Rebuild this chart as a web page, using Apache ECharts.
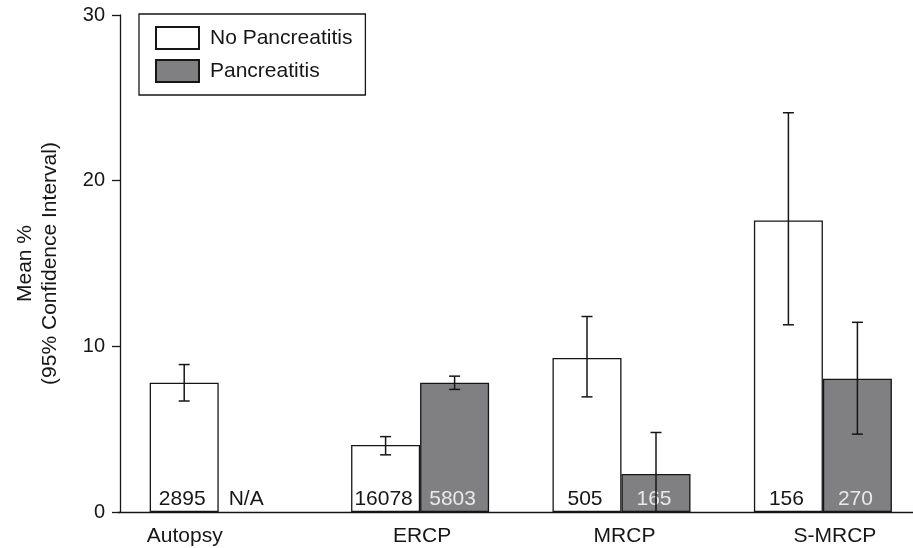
<!DOCTYPE html>
<html>
<head>
<meta charset="utf-8">
<script src="https://cdn.jsdelivr.net/npm/echarts@6/dist/echarts.min.js"></script>
<style>
  html, body { margin: 0; padding: 0; background: #fff; }
  #chart { width: 913px; height: 548px; }
</style>
</head>
<body>
<div id="chart"></div>
<script>
const categories = ['Autopsy', 'ERCP', 'MRCP', 'S-MRCP'];
const noPancMean = [7.8, 4.05, 9.3, 17.6];
const noPancLow  = [6.7, 3.45, 6.95, 11.3];
const noPancHigh = [8.9, 4.55, 11.8, 24.1];
const pancMean = [null, 7.8, 2.3, 8.05];
const pancLow  = [null, 7.4, 0.0, 4.7];
const pancHigh = [null, 8.2, 4.8, 11.45];
const noPancN = ['2895', '16078', '505', '156'];
const pancN   = ['N/A', '5803', '165', '270'];
const yTicks = [0, 10, 20, 30];

const FONT = 'Liberation Sans, Arial, Helvetica, sans-serif';
const INK = '#161616';
const BAR_W = 69;
// horizontal shift (px) of each category label, a style setting
const catLabelShift = [-34, 2, 3, 12];

const chart = echarts.init(document.getElementById('chart'), null, { renderer: 'canvas' });

const xData = categories.map((c, i) => {
  const s = catLabelShift[i];
  return {
    value: c,
    textStyle: { padding: s >= 0 ? [0, 0, 0, 2 * s] : [0, -2 * s, 0, 0] }
  };
});

const noPancData = noPancMean.map(v => v);
const pancData = pancMean.map(v => v == null
  ? { value: 0, itemStyle: { color: 'transparent', borderColor: 'transparent', borderWidth: 0 },
      label: { color: INK, offset: [-7, 0] } }
  : v);

const errData = [];
noPancMean.forEach((v, i) => { errData.push([i, noPancLow[i], noPancHigh[i], 0]); });
pancMean.forEach((v, i) => { if (v != null) errData.push([i, pancLow[i], pancHigh[i], 1]); });

const option = {
  backgroundColor: '#ffffff',
  animation: false,
  textStyle: { fontFamily: FONT },
  grid: { left: 118, top: 15, bottom: 36, width: 805.6, outerBoundsMode: 'none', containLabel: false },
  legend: {
    orient: 'vertical',
    left: 139, top: 14,
    icon: 'rect',
    itemWidth: 43, itemHeight: 22, itemGap: 9,
    padding: [12, 13, 12, 16],
    borderColor: INK, borderWidth: 1.3,
    textStyle: { fontSize: 21, color: INK, fontFamily: FONT, padding: [0, 0, 0, 6] },
    data: ['No Pancreatitis', 'Pancreatitis']
  },
  xAxis: {
    type: 'category',
    data: xData,
    axisLine: { lineStyle: { color: INK, width: 1.3 } },
    axisTick: { show: false },
    axisLabel: { fontSize: 21, color: INK, fontFamily: FONT, margin: 14, interval: 0 },
    splitLine: { show: false }
  },
  yAxis: {
    type: 'value',
    min: yTicks[0], max: yTicks[yTicks.length - 1], interval: 10,
    offset: -2,
    name: 'Mean %\n(95% Confidence Interval)',
    nameLocation: 'middle',
    nameGap: 57,
    nameTextStyle: { fontSize: 21, color: INK, fontFamily: FONT, lineHeight: 25, align: 'center' },
    axisLine: { show: true, lineStyle: { color: INK, width: 1.3 } },
    axisTick: { show: true, length: 8, lineStyle: { color: INK, width: 1.3 } },
    axisLabel: { fontSize: 20, color: INK, fontFamily: FONT, margin: 15 },
    splitLine: { show: false }
  },
  series: [
    {
      name: 'No Pancreatitis',
      type: 'bar',
      data: noPancData,
      barWidth: BAR_W,
      barGap: '0%',
      itemStyle: { color: '#ffffff', borderColor: INK, borderWidth: 1.3 },
      label: {
        show: true, position: 'insideBottom', distance: 2, offset: [-2, 0],
        fontSize: 21, color: INK, fontFamily: FONT,
        formatter: p => noPancN[p.dataIndex]
      }
    },
    {
      name: 'Pancreatitis',
      type: 'bar',
      data: pancData,
      barWidth: BAR_W,
      barGap: '0%',
      itemStyle: { color: '#808083', borderColor: INK, borderWidth: 1.3 },
      label: {
        show: true, position: 'insideBottom', distance: 2, offset: [-2, 0],
        fontSize: 21, color: '#e8e8e8', fontFamily: FONT,
        formatter: p => pancN[p.dataIndex]
      }
    },
    {
      type: 'custom',
      name: 'CI',
      data: errData,
      encode: { x: 0, y: [1, 2] },
      z: 10,
      renderItem: function (params, api) {
        const cat = api.value(0);
        const side = api.value(3) === 0 ? -1 : 1;
        const lo = api.coord([cat, api.value(1)]);
        const hi = api.coord([cat, api.value(2)]);
        const x = lo[0] + side * BAR_W / 2;
        const cap = 5.5;
        const style = { stroke: INK, lineWidth: 1.5, fill: null };
        return {
          type: 'group',
          children: [
            { type: 'line', shape: { x1: x, y1: lo[1], x2: x, y2: hi[1] }, style },
            { type: 'line', shape: { x1: x - cap, y1: hi[1], x2: x + cap, y2: hi[1] }, style },
            { type: 'line', shape: { x1: x - cap, y1: lo[1], x2: x + cap, y2: lo[1] }, style }
          ]
        };
      }
    }
  ]
};
chart.setOption(option);
</script>
</body>
</html>
